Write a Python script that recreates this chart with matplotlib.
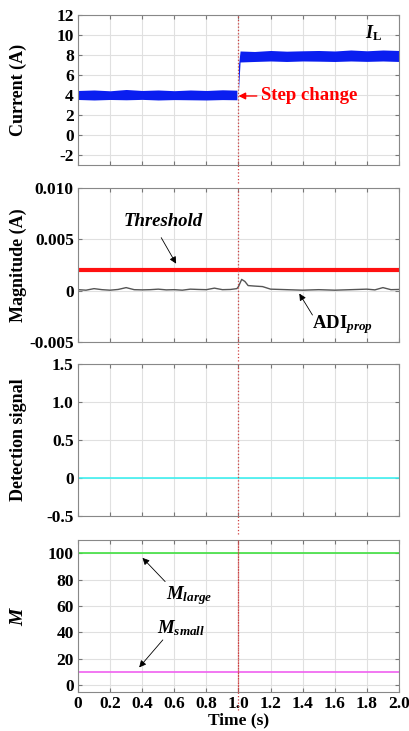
import matplotlib
matplotlib.use("Agg")
import matplotlib.pyplot as plt
import numpy as np

plt.rcParams["font.family"] = ["Liberation Serif", "DejaVu Serif"]
plt.rcParams["font.weight"] = "bold"
plt.rcParams["axes.unicode_minus"] = False
plt.rcParams["mathtext.fontset"] = "custom"
plt.rcParams["mathtext.rm"] = "Liberation Serif:bold"
plt.rcParams["mathtext.bf"] = "Liberation Serif:bold"
plt.rcParams["mathtext.it"] = "Liberation Serif:italic:bold"

# 電流 I_L 上下包絡 (A)
t_before = [0.0, 0.1, 0.2, 0.3, 0.4, 0.5, 0.6, 0.7, 0.8, 0.9, 0.99]
il_before_lo = [3.55, 3.5, 3.55, 3.52, 3.56, 3.5, 3.54, 3.52, 3.5, 3.54, 3.52]
il_before_hi = [4.45, 4.5, 4.42, 4.55, 4.45, 4.5, 4.43, 4.5, 4.45, 4.52, 4.48]
t_after = [1.0, 1.01, 1.1, 1.2, 1.3, 1.4, 1.5, 1.6, 1.7, 1.8, 1.9, 2.0]
il_after_lo = [4.5, 7.3, 7.35, 7.4, 7.35, 7.4, 7.38, 7.35, 7.4, 7.36, 7.4, 7.35]
il_after_hi = [7.0, 8.4, 8.35, 8.45, 8.38, 8.42, 8.45, 8.4, 8.5, 8.42, 8.5, 8.45]

# ADI_prop 幅值 (A)
t_adi = [0.0, 0.05, 0.1, 0.15, 0.2, 0.25, 0.3, 0.35, 0.4, 0.45, 0.5, 0.55,
         0.6, 0.65, 0.7, 0.75, 0.8, 0.85, 0.9, 0.95, 0.99, 1.0, 1.02, 1.04,
         1.06, 1.1, 1.15, 1.2, 1.3, 1.4, 1.5, 1.6, 1.7, 1.8, 1.85, 1.9, 1.95, 2.0]
adi_val = [0.0001, 0.00005, 0.0002, 0.0001, 0.00005, 0.00012, 0.0003, 0.0001,
           0.00008, 0.0001, 0.00015, 0.00008, 0.0001, 0.00005, 0.00015, 0.00012,
           0.0001, 0.00025, 0.0001, 0.00012, 0.0002, 0.0004, 0.0011, 0.0009,
           0.0005, 0.00045, 0.0004, 0.00015, 0.0001, 0.00005, 0.0001, 0.00005,
           0.0001, 0.00015, 0.00008, 0.0003, 0.0001, 0.00012]
threshold = 0.002

t_flat = [0.0, 2.0]
detect_val = [0.0, 0.0]
m_large = [100, 100]
m_small = [10, 10]

step_time = 1.0
x_ticks = np.arange(0, 2.01, 0.2)
x_labels = ["0", "0.2", "0.4", "0.6", "0.8", "1.0", "1.2", "1.4", "1.6", "1.8", "2.0"]

TICK_FS = 12.5
LABEL_FS = 13

fig = plt.figure(figsize=(4.1, 7.31), dpi=100)
left, width = 0.1902, 0.7829
boxes = [(0.7743, 0.2052), (0.5321, 0.2107), (0.2941, 0.2079), (0.0534, 0.2079)]
axes = [fig.add_axes([left, b, width, h]) for b, h in boxes]

for ax in axes:
    ax.set_xlim(0, 2)
    ax.set_xticks(x_ticks)
    ax.grid(True, color="#e0e0e0", linewidth=0.8)
    ax.set_axisbelow(True)
    ax.tick_params(direction="in", length=3, color="#777777", labelsize=TICK_FS,
                   top=True, right=True, pad=3)
    for s in ax.spines.values():
        s.set_color("#888888")
    ax.axvline(step_time, color="#d04040", linestyle=":", linewidth=0.9,
               ymin=-0.12, ymax=1.0, clip_on=False, zorder=5)
    ax.yaxis.set_label_coords(-0.16, 0.5)
for ax in axes[:3]:
    ax.set_xticklabels([])
axes[3].set_xticklabels(x_labels)
axes[3].axvline(step_time, color="#d04040", linestyle=":", linewidth=0.9, zorder=5)

# 面板一：電流
ax = axes[0]
ax.fill_between(t_before, il_before_lo, il_before_hi, color="#0a1ef0", linewidth=0)
ax.fill_between(t_after, il_after_lo, il_after_hi, color="#0a1ef0", linewidth=0)
ax.set_ylim(-3, 12)
ax.set_yticks(range(-2, 13, 2))
ax.set_ylabel("Current (A)", fontsize=LABEL_FS, fontweight="bold")
ax.text(1.84, 10.2, r"$I_{\mathrm{L}}$", fontsize=13, ha="center", va="center")
ax.annotate("Step change", xy=(1.0, 3.9), xytext=(1.14, 3.9), color="red",
            fontsize=13.5, fontweight="bold", va="center",
            arrowprops=dict(arrowstyle="-|>", color="red", lw=1, shrinkA=1, shrinkB=0,
                            mutation_scale=10))

# 面板二：幅值
ax = axes[1]
ax.axhline(threshold, color="#ff1010", linewidth=3)
ax.plot(t_adi, adi_val, color="#555555", linewidth=1)
ax.set_ylim(-0.005, 0.010)
ax.set_yticks([-0.005, 0, 0.005, 0.010])
ax.set_yticklabels(["-0.005", "0", "0.005", "0.010"])
ax.set_ylabel("Magnitude (A)", fontsize=LABEL_FS, fontweight="bold")
ax.text(0.53, 0.0067, "Threshold", fontsize=13.5, fontweight="bold", style="italic",
        ha="center", va="center")
ax.annotate("", xy=(0.62, 0.0024), xytext=(0.51, 0.0054),
            arrowprops=dict(arrowstyle="-|>", color="black", lw=0.6, mutation_scale=10))
ax.text(1.65, -0.0033, r"ADI$_{\mathit{prop}}$", fontsize=13.5, ha="center", va="center")
ax.annotate("", xy=(1.37, -0.00005), xytext=(1.47, -0.0026),
            arrowprops=dict(arrowstyle="-|>", color="black", lw=0.6, mutation_scale=10))

# 面板三：檢測信號
ax = axes[2]
ax.plot(t_flat, detect_val, color="#40f0f0", linewidth=1.2)
ax.set_ylim(-0.5, 1.5)
ax.set_yticks([-0.5, 0, 0.5, 1.0, 1.5])
ax.set_yticklabels(["-0.5", "0", "0.5", "1.0", "1.5"])
ax.set_ylabel("Detection signal", fontsize=LABEL_FS, fontweight="bold")

# 面板四：M
ax = axes[3]
ax.plot(t_flat, m_large, color="#40e040", linewidth=1.2)
ax.plot(t_flat, m_small, color="#f060f0", linewidth=1.2)
ax.set_ylim(-5, 110)
ax.set_yticks(range(0, 101, 20))
ax.set_ylabel(r"$M$", fontsize=14)
ax.set_xlabel("Time (s)", fontsize=12.5, fontweight="bold", labelpad=0)
ax.text(0.69, 68, r"$M_{large}$", fontsize=13.5, ha="center", va="center")
ax.annotate("", xy=(0.39, 98), xytext=(0.555, 77),
            arrowprops=dict(arrowstyle="-|>", color="black", lw=0.6, mutation_scale=10))
ax.text(0.64, 43, r"$M_{small}$", fontsize=13.5, ha="center", va="center")
ax.annotate("", xy=(0.37, 12), xytext=(0.54, 36),
            arrowprops=dict(arrowstyle="-|>", color="black", lw=0.6, mutation_scale=10))

fig.savefig("out.png", dpi=100)
